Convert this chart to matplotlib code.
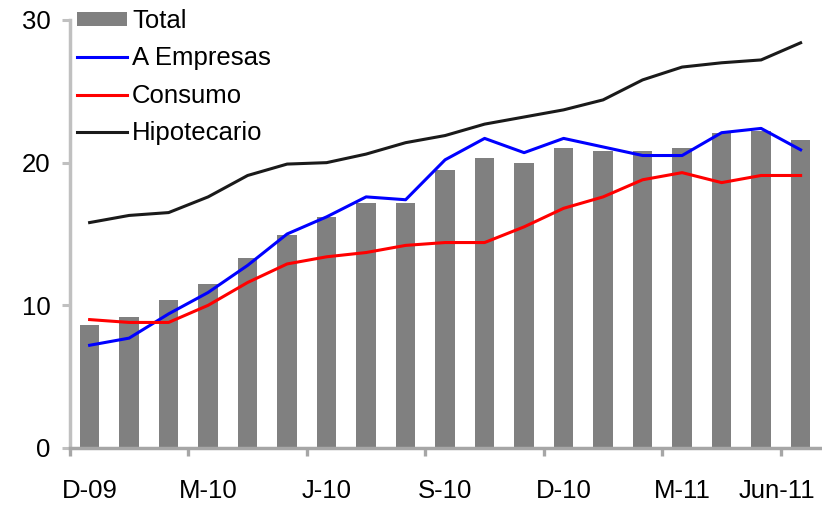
import matplotlib
matplotlib.use("Agg")
import matplotlib.pyplot as plt
import matplotlib.transforms as mtransforms
import numpy as np

plt.rcParams['font.family'] = ['Liberation Sans', 'DejaVu Sans']

# monthly data Dec-09 .. Jun-11
months = ['D-09', 'E-10', 'F-10', 'M-10', 'A-10', 'My-10', 'J-10', 'Jl-10', 'Ag-10',
          'S-10', 'O-10', 'N-10', 'D-10', 'E-11', 'F-11', 'M-11', 'A-11', 'My-11', 'Jun-11']
total = [8.6, 9.2, 10.4, 11.5, 13.3, 14.9, 16.2, 17.2, 17.2, 19.5,
         20.3, 20.0, 21.0, 20.8, 20.8, 21.0, 22.1, 22.2, 21.6]
empresas = [7.2, 7.7, 9.4, 10.9, 12.8, 15.0, 16.2, 17.6, 17.4, 20.2,
            21.7, 20.7, 21.7, 21.1, 20.5, 20.5, 22.1, 22.4, 20.9]
consumo = [9.0, 8.8, 8.8, 10.0, 11.6, 12.9, 13.4, 13.7, 14.2, 14.4,
           14.4, 15.5, 16.8, 17.6, 18.8, 19.3, 18.6, 19.1, 19.1]
hipotecario = [15.8, 16.3, 16.5, 17.6, 19.1, 19.9, 20.0, 20.6, 21.4, 21.9,
               22.7, 23.2, 23.7, 24.4, 25.8, 26.7, 27.0, 27.2, 28.4]
tick_labels = ['D-09', 'M-10', 'J-10', 'S-10', 'D-10', 'M-11', 'Jun-11']

x = np.arange(len(months))
fs = 18.5

fig = plt.figure(figsize=(8.22, 5.07), dpi=100)
ax = fig.add_axes([0.085, 0.1164, 0.913, 0.8442])

bars = ax.bar(x, total, width=0.5, color='#808080', label='Total', zorder=1)
l1, = ax.plot(x, empresas, color='#0000ff', lw=2.2, label='A Empresas', zorder=3)
l2, = ax.plot(x, consumo, color='#ff0000', lw=2.2, label='Consumo', zorder=3)
l3, = ax.plot(x, hipotecario, color='#1a1a1a', lw=2.2, label='Hipotecario', zorder=3)

ax.set_xlim(-0.5, len(months) - 0.5)
ax.set_ylim(0, 30)
ax.set_yticks([0, 10, 20, 30])
ax.tick_params(axis='y', direction='out', length=5.8, width=2.2, color='#c0c0c0',
               labelsize=fs, pad=8)

# tick marks between categories, labels under every third month
ax.set_xticks(np.arange(-0.5, len(months) - 1, 3))
ax.set_xticklabels([])
ax.set_xticks(x[::3], minor=True)
ax.set_xticklabels(tick_labels, minor=True)
ax.tick_params(axis='x', which='major', direction='out', length=5.8, width=2.4,
               color='#a6a6a6')
ax.tick_params(axis='x', which='minor', length=0, labelsize=fs, pad=22)
last = ax.xaxis.get_minorticklabels()[-1]
last.set_transform(last.get_transform() +
                   mtransforms.ScaledTranslation(-0.24, 0, fig.dpi_scale_trans))

for s in ['top', 'right']:
    ax.spines[s].set_visible(False)
ax.spines['left'].set_color('#c0c0c0')
ax.spines['left'].set_linewidth(2.5)
ax.spines['bottom'].set_color('#a6a6a6')
ax.spines['bottom'].set_linewidth(2.5)

ax.legend([bars, l1, l2, l3], ['Total', 'A Empresas', 'Consumo', 'Hipotecario'],
          loc='upper left', bbox_to_anchor=(77 / 822, 1 - 9 / 507),
          bbox_transform=fig.transFigure, frameon=False, fontsize=fs,
          borderpad=0, borderaxespad=0, handlelength=1.95, handleheight=0.5,
          handletextpad=0.2, labelspacing=0.52)

fig.savefig('out.png', dpi=100)
